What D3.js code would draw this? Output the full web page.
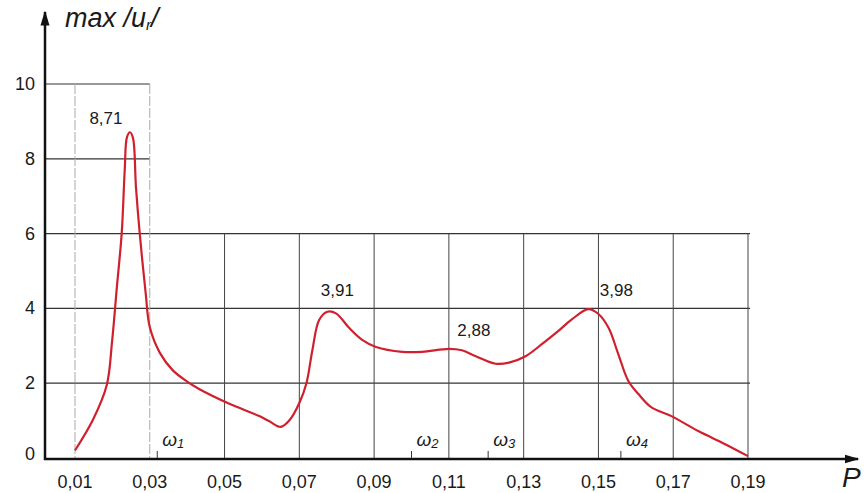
<!DOCTYPE html>
<html>
<head>
<meta charset="utf-8">
<script src="https://cdn.jsdelivr.net/npm/d3@7"></script>
<style>
  body { margin: 0; background: #fff; }
  text { font-family: "Liberation Sans", Arial, sans-serif; fill: #1a1a1a; }
</style>
</head>
<body>
<script>
// curve
var pValues = [0.0100, 0.0148, 0.0185, 0.0199, 0.0212, 0.0225, 0.0233, 0.0239, 0.0247, 0.0255, 0.0263, 0.0273,
  0.0289, 0.0300, 0.0327, 0.0361, 0.0399, 0.0433, 0.0513, 0.0593, 0.0620, 0.0650, 0.0673, 0.0700,
  0.0719, 0.0735, 0.0753, 0.0775, 0.0799, 0.0833, 0.0868, 0.0905, 0.0975, 0.1028, 0.1100, 0.1135,
  0.1172, 0.1225, 0.1261, 0.1305, 0.1353, 0.1393, 0.1428, 0.1473, 0.1500, 0.1527, 0.1553, 0.1580,
  0.1607, 0.1641, 0.1695, 0.1767, 0.1839, 0.1900];
var uValues = [0.20, 1.02, 1.95, 3.10, 4.57, 6.02, 7.70, 8.58, 8.71, 8.56, 7.25, 6.02,
  4.41, 3.50, 2.81, 2.35, 2.05, 1.84, 1.45, 1.12, 0.98, 0.83, 1.00, 1.47,
  2.00, 2.89, 3.69, 3.91, 3.86, 3.48, 3.16, 2.97, 2.84, 2.84, 2.92, 2.88,
  2.72, 2.52, 2.55, 2.72, 3.08, 3.40, 3.70, 3.98, 3.85, 3.48, 2.78, 2.06,
  1.71, 1.36, 1.12, 0.72, 0.37, 0.05];

var xTicks = [0.01, 0.03, 0.05, 0.07, 0.09, 0.11, 0.13, 0.15, 0.17, 0.19];
var yTicks = [0, 2, 4, 6, 8, 10];

var peakP = [0.0247, 0.0775, 0.1100, 0.1473];
var peakLabels = ["8,71", "3,91", "2,88", "3,98"];

var omegaP = [0.032, 0.100, 0.1205, 0.156];
var omegaLabels = ["ω1", "ω2", "ω3", "ω4"];

var W = 867, H = 493;
var svg = d3.select("body").append("svg").attr("width", W).attr("height", H);

var x = d3.scaleLinear().domain([0.01, 0.19]).range([75, 748]);
var y = d3.scaleLinear().domain([0, 10]).range([458, 84]);
var x0 = 45;

var fmt = function(v){ return d3.format(".2f")(v).replace(".", ","); };

// horizontal grid
svg.selectAll(".hgrid")
  .data(yTicks.filter(function(d){ return d > 0; }))
  .enter().append("line")
  .attr("class", "hgrid")
  .attr("x1", x0)
  .attr("x2", function(d){ return d >= 8 ? x(0.03) : x(0.19) + 2; })
  .attr("y1", function(d){ return y(d); })
  .attr("y2", function(d){ return y(d); })
  .attr("stroke", "#333").attr("stroke-width", 1.2);

// vertical grid
svg.selectAll(".vgrid")
  .data(xTicks)
  .enter().append("line")
  .attr("class", "vgrid")
  .attr("x1", function(d){ return x(d); })
  .attr("x2", function(d){ return x(d); })
  .attr("y1", function(d){ return d <= 0.03 ? y(10) : y(6); })
  .attr("y2", y(0))
  .attr("stroke", function(d){ return d <= 0.03 ? "#aaa" : "#444"; })
  .attr("stroke-dasharray", function(d){ return d <= 0.03 ? "10,2" : null; })
  .attr("stroke-width", 1);

// axes with arrows
var defs = svg.append("defs");
defs.append("marker")
  .attr("id", "arr")
  .attr("viewBox", "0 0 10 10")
  .attr("refX", 9).attr("refY", 5)
  .attr("markerWidth", 6).attr("markerHeight", 6)
  .attr("markerUnits", "strokeWidth")
  .attr("orient", "auto")
  .append("path").attr("d", "M0,2 L10,5 L0,8 Z").attr("fill", "#111");

svg.append("line")
  .attr("x1", x0).attr("x2", x0)
  .attr("y1", y(0) + 2).attr("y2", 12)
  .attr("stroke", "#111").attr("stroke-width", 2.5)
  .attr("marker-end", "url(#arr)");

svg.append("line")
  .attr("x1", x0 - 1).attr("x2", 858)
  .attr("y1", y(0) + 1).attr("y2", y(0) + 1)
  .attr("stroke", "#111").attr("stroke-width", 2.5)
  .attr("marker-end", "url(#arr)");

// tick labels
svg.selectAll(".ylab")
  .data(yTicks)
  .enter().append("text")
  .attr("class", "ylab")
  .attr("x", 35)
  .attr("y", function(d){ return y(d) + 6 - (d === 0 ? 4 : 0); })
  .attr("text-anchor", "end")
  .attr("font-size", 18)
  .text(function(d){ return d; });

svg.selectAll(".xlab")
  .data(xTicks)
  .enter().append("text")
  .attr("class", "xlab")
  .attr("x", function(d){ return x(d); })
  .attr("y", 488)
  .attr("text-anchor", "middle")
  .attr("font-size", 18)
  .text(fmt);

// axis titles
var t = svg.append("text")
  .attr("x", 65).attr("y", 27)
  .attr("font-size", 27)
  .attr("font-style", "italic");
t.append("tspan").text("max /u");
t.append("tspan").attr("font-size", 15).attr("dy", 3).text("r");
t.append("tspan").attr("dy", -3).text("/");

svg.append("text")
  .attr("x", 842).attr("y", 487)
  .attr("font-size", 28)
  .attr("font-style", "italic")
  .text("P");

// curve
var pts = pValues.map(function(p, i){ return [p, uValues[i]]; });
var line = d3.line()
  .x(function(d){ return x(d[0]); })
  .y(function(d){ return y(d[1]); })
  .curve(d3.curveCatmullRom.alpha(0.5));

svg.append("path")
  .datum(pts)
  .attr("d", line)
  .attr("fill", "none")
  .attr("stroke", "#d0202e")
  .attr("stroke-width", 2.2)
  .attr("stroke-linejoin", "round");

// peak labels
var peakDx = [-24, 10, 25, 28];
var peakY = [124, 296, 336, 296];
svg.selectAll(".peak")
  .data(peakP)
  .enter().append("text")
  .attr("class", "peak")
  .attr("x", function(d, i){ return x(d) + peakDx[i]; })
  .attr("y", function(d, i){ return peakY[i]; })
  .attr("text-anchor", "middle")
  .attr("font-size", 17)
  .text(function(d, i){ return peakLabels[i]; });

// omega marks
svg.selectAll(".omtick")
  .data(omegaP)
  .enter().append("line")
  .attr("class", "omtick")
  .attr("x1", function(d){ return x(d); })
  .attr("x2", function(d){ return x(d); })
  .attr("y1", y(0) - 7).attr("y2", y(0))
  .attr("stroke", "#333").attr("stroke-width", 1);

var om = svg.selectAll(".omlab")
  .data(omegaP)
  .enter().append("text")
  .attr("class", "omlab")
  .attr("x", function(d){ return x(d) + 5; })
  .attr("y", 446)
  .attr("font-size", 19)
  .attr("font-style", "italic");
om.append("tspan").text("ω");
om.append("tspan").attr("font-size", 13).attr("dy", 2)
  .text(function(d, i){ return omegaLabels[i].slice(1); });
</script>
</body>
</html>
